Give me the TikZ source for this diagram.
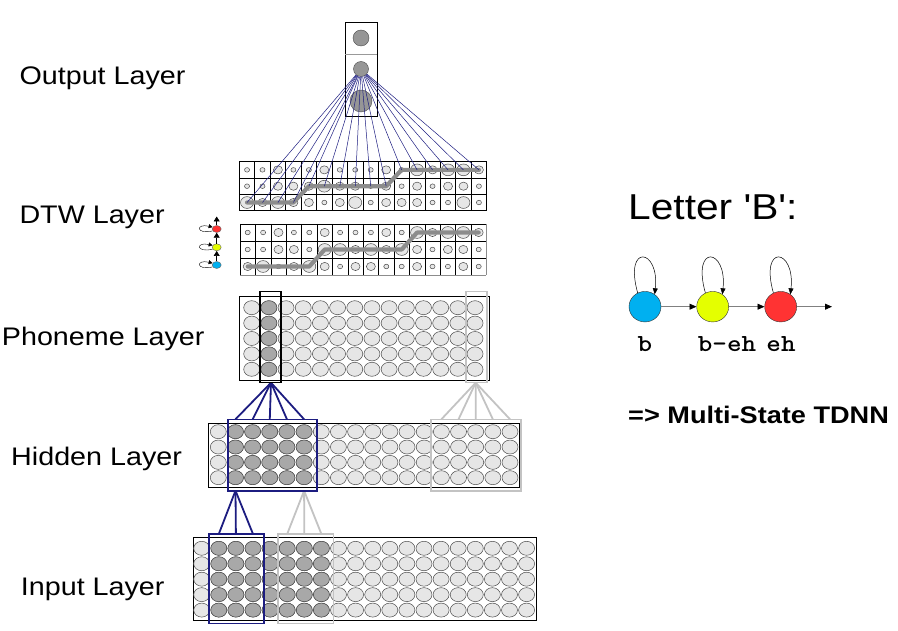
\documentclass[tikz,border=0pt]{standalone}
\usepackage{fontspec}
\setmainfont{Liberation Sans}
\usetikzlibrary{arrows.meta,shapes.geometric}
\definecolor{navyline}{RGB}{28,28,128}
\definecolor{unitlight}{RGB}{230,230,230}
\definecolor{unitdark}{RGB}{168,168,168}
\definecolor{outgray}{RGB}{150,150,150}
\definecolor{selgray}{RGB}{195,195,195}
\definecolor{pathgray}{RGB}{140,140,140}
\definecolor{stateblue}{RGB}{0,176,240}
\definecolor{stateyellow}{RGB}{228,255,0}
\definecolor{statered}{RGB}{255,51,51}
\tikzset{
  >={Triangle[length=6pt,width=5pt]},
  layer label/.style={anchor=base west,inner sep=0pt,xscale=1.13,font=\fontsize{25.4}{30}\selectfont},
  title/.style={anchor=base west,inner sep=0pt,xscale=1.13,font=\fontsize{36}{42}\selectfont},
  note/.style={anchor=base west,inner sep=0pt,xscale=1.13,font=\bfseries\fontsize{24}{28}\selectfont},
  phone/.style={anchor=base,inner sep=0pt,xscale=1.13,font=\ttfamily\bfseries\fontsize{24.5}{28}\selectfont},
  unit/.style={draw=black!70,fill=#1,line width=0.5pt},
  unit/.default=unitlight,
  frame/.style={draw=black,line width=0.8pt},
  picked/.style={draw=#1,line width=1.6pt},
  fan/.style={draw=#1,line width=1.8pt},
  link/.style={draw=navyline,line width=0.5pt},
  cell/.style={draw=#1,line width=0.6pt},
  cell/.default=black,
  warp/.style={draw=pathgray,line width=4.2pt,line cap=round,line join=round},
  outunit/.style={circle,draw=black!70,fill=outgray,inner sep=0pt,minimum size=#1},
  hmmstate/.style={ellipse,draw=black!80,fill=#1,minimum width=32pt,minimum height=30.5pt,inner sep=0pt},
  trans/.style={draw=black!50,line width=0.8pt,-{Triangle[color=black,length=7pt,width=6pt]}},
  selfloop/.style={draw=black,line width=0.5pt,->},
  mini/.style={ellipse,draw=black!60,fill=#1,minimum width=9pt,minimum height=7pt,inner sep=0pt},
  minitrans/.style={draw=black,line width=0.6pt,-{Triangle[length=5pt,width=6pt]}},
  miniloop/.style={draw=black,line width=0.4pt,-{Triangle[length=4pt,width=4pt]}},
}
\begin{document}
\begin{tikzpicture}[x=1pt,y=-1pt]
  \useasboundingbox (0,0) rectangle (898,631);
  % labels
  \node[layer label] (lout) at (19.3,85) {Output Layer};
  \node[layer label] (ldtw) at (19.3,224) {DTW Layer};
  \node[layer label] (lpho) at (1.7,345) {Phoneme Layer};
  \node[layer label] (lhid) at (11,465) {Hidden Layer};
  \node[layer label] (linp) at (20.7,595.7) {Input Layer};

  % output layer
  \draw[frame] (345,22) rectangle (377,116);
  \draw[draw=black!40,line width=0.8pt] (345,54) -- (377,54);
  \node[outunit=16pt] (o1) at (361,38) {};
  \node[outunit=22pt] (o3) at (361,101) {};
  \node[outunit=15pt] (o2) at (361,69) {};

  % DTW grids
  \foreach \c in {0,...,16} \draw[cell] (239.3+15.46*\c,161.7) -- ++(0,49);
  \foreach \r in {0,...,3} \draw[cell] (239.3,161.7+16.33*\r) -- ++(247.36,0);
  \foreach \s [count=\n from 0] in {1,1,2,1,1,2,1,1,1,2,1,3,2,3,3,2,
                                    1,1,2,2,2,3,2,2,1,2,1,2,1,2,2,1,
                                    3,2,3,2,2,1,2,3,1,2,2,2,1,1,3,1} {
    \pgfmathtruncatemacro\cc{mod(\n,16)}
    \pgfmathtruncatemacro\rr{\n/16}
    \pgfmathsetmacro\ry{0.5+1.8*\s}
    \pgfmathsetmacro\rx{1.1*\ry}
    \draw[unit] (247.03+15.46*\cc,169.87+16.33*\rr) ellipse [x radius=\rx pt,y radius=\ry pt];
  }
  \draw[warp] (247.0,202.5) -- (293.4,202.5) -- (308.9,186.2) -- (386.2,186.2) -- (401.6,169.9) -- (478.9,169.9);

  \foreach \c in {0,...,15} \draw[cell] (240+15.4*\c,224) -- ++(0,51);
  \draw[cell=black!45] (486.4,224) -- ++(0,51);
  \foreach \r in {0,...,2} \draw[cell] (240,224+17*\r) -- ++(246.4,0);
  \draw[cell=black!45] (240,275) -- ++(246.4,0);
  \foreach \s [count=\n from 0] in {1,1,2,1,1,2,1,1,1,2,1,3,2,3,3,2,
                                    1,1,2,2,1,3,3,2,3,2,3,2,1,2,2,1,
                                    2,3,1,2,3,2,1,2,2,1,1,2,1,1,2,1} {
    \pgfmathtruncatemacro\cc{mod(\n,16)}
    \pgfmathtruncatemacro\rr{\n/16}
    \pgfmathsetmacro\ry{0.5+1.8*\s}
    \pgfmathsetmacro\rx{1.1*\ry}
    \draw[unit] (247.7+15.4*\cc,232.5+17*\rr) ellipse [x radius=\rx pt,y radius=\ry pt];
  }
  \draw[warp] (247.7,266.5) -- (309.3,266.5) -- (324.7,249.5) -- (401.7,249.5) -- (417.1,232.5) -- (478.7,232.5);

  % output links
  \foreach \c/\rr in {0/2,1/2,2/2,3/2,4/1,5/1,6/1,7/1,8/1,9/1,10/0,11/0,12/0,13/0,14/0,15/0} {
    \coordinate (w\c) at (247.03+15.46*\c,169.87+16.33*\rr);
    \draw[link] (o2) -- (w\c);
  }

  % state icons
  \node[mini=statered] (mr) at (216.7,229) {};
  \node[mini=stateyellow] (my) at (216.7,247.3) {};
  \node[mini=stateblue] (mb) at (216.7,265) {};
  \coordinate (mtop) at (216.7,216.5);
  \draw[minitrans] (mb) -- (my);
  \draw[minitrans] (my) -- (mr);
  \draw[minitrans] (mr) -- (mtop);
  \foreach \m in {mr,my,mb}
    \draw[miniloop] (\m.205) .. controls +(-17,4) and +(-17,-4) .. (\m.155);

  % phoneme layer
  \draw[frame] (239.3,296.7) rectangle (489,380);
  \foreach \i in {0,...,13} \foreach \j in {0,...,4}
    \draw[unit] (251.7+17.18*\i,307.7+15.4*\j) ellipse [x radius=8pt,y radius=7pt];
  \foreach \j in {0,...,4}
    \draw[unit=unitdark] (268.88,307.7+15.4*\j) ellipse [x radius=8pt,y radius=7pt];

  % hidden layer
  \draw[frame] (208.3,423.3) rectangle (519.5,487.7);
  \foreach \i in {0,...,17} \foreach \j in {0,...,3}
    \draw[unit] (218.3+17.16*\i,431.7+15.33*\j) ellipse [x radius=8pt,y radius=7pt];
  \foreach \i in {1,...,5} \foreach \j in {0,...,3}
    \draw[unit=unitdark] (218.3+17.16*\i,431.7+15.33*\j) ellipse [x radius=8pt,y radius=7pt];

  % input layer
  \draw[frame] (193.3,537.7) rectangle (536.7,620.7);
  \foreach \i in {0,...,19} \foreach \j in {0,...,4}
    \draw[unit] (201.7+17.1*\i,548.3+15.45*\j) ellipse [x radius=8pt,y radius=7pt];
  \foreach \i in {1,...,7} \foreach \j in {0,...,4}
    \draw[unit=unitdark] (201.7+17.1*\i,548.3+15.45*\j) ellipse [x radius=8pt,y radius=7pt];

  % receptive fields
  \coordinate (pa) at (271,382.7);
  \coordinate (pg) at (475.7,382.7);
  \foreach \k in {1,...,5} {
    \coordinate (ha\k) at (218.3+17.16*\k,419.3);
    \draw[fan=navyline] (pa) -- (ha\k);
  }
  \foreach \k in {13,...,17} {
    \coordinate (hg\k) at (218.3+17.16*\k,419.3);
    \draw[fan=selgray] (pg) -- (hg\k);
  }
  \coordinate (ha) at (235.5,490.7);
  \coordinate (hg) at (304.1,490.7);
  \foreach \k in {5,6,7} {
    \coordinate (ig\k) at (201.7+17.1*\k,534);
    \draw[fan=selgray] (hg) -- (ig\k);
  }
  \foreach \k in {1,2,3} {
    \coordinate (ia\k) at (201.7+17.1*\k,534);
    \draw[fan=navyline] (ha) -- (ia\k);
  }
  \draw[picked=black] (260,291.7) rectangle (281,382.7);
  \draw[picked=selgray] (466,291.7) rectangle (487,382.7);
  \draw[picked=navyline] (227.7,419.3) rectangle (316.7,490.7);
  \draw[picked=selgray] (431,419.3) rectangle (521,490.7);
  \draw[picked=navyline] (209,534) rectangle (264,623.3);
  \draw[picked=selgray] (277.7,534) rectangle (333.3,623.3);

  % letter model
  \node[title] (ltr) at (628,220) {Letter \textquotesingle B\textquotesingle:};
  \node[hmmstate=stateblue] (sb) at (645,306.7) {};
  \node[hmmstate=stateyellow] (sbeh) at (712.7,306.7) {};
  \node[hmmstate=statered] (seh) at (780.7,306.7) {};
  \coordinate (exit) at (832,306.7);
  \draw[trans] (sb) -- (sbeh);
  \draw[trans] (sbeh) -- (seh);
  \draw[trans] (seh) -- (exit);
  \foreach \s in {sb,sbeh,seh}
    \draw[selfloop] (\s.118) .. controls +(-14,-50) and +(5,-46) .. (\s.52);
  \node[phone] (pb) at (645,351.7) {b};
  \node[phone] (pbeh) at (727,351.7) {b-eh};
  \node[phone] (peh) at (781,351.7) {eh};
  \node[note] (res) at (628,423) {=> Multi-State TDNN};
\end{tikzpicture}
\end{document}
